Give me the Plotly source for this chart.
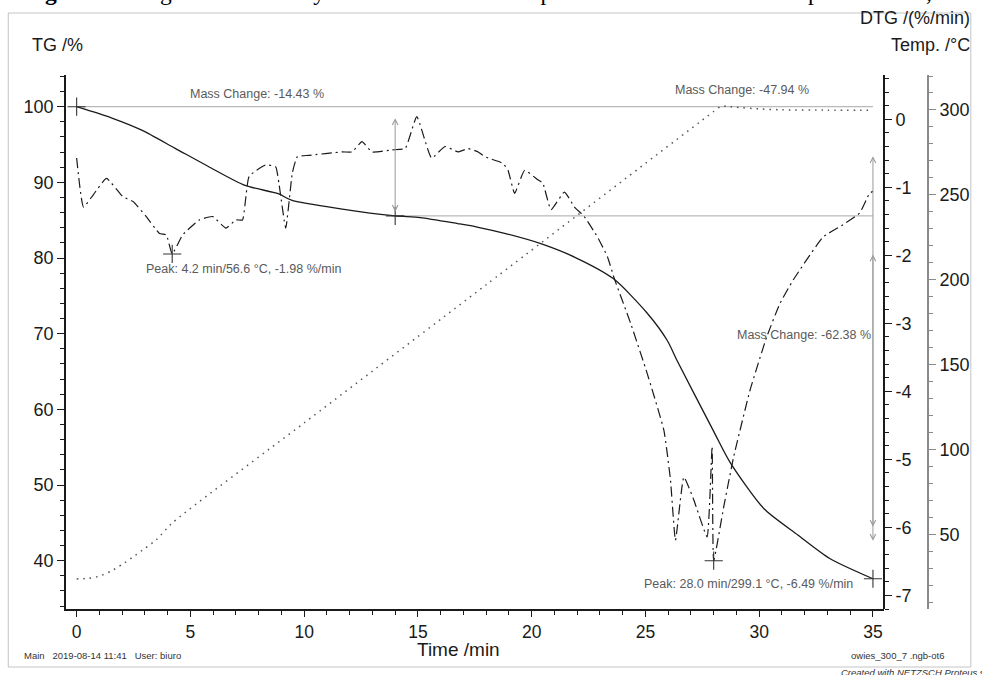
import plotly.graph_objects as go

# ---- measured curves -------------------------------------------------------
# TG (mass, %) versus time (min)
tg_time = [0.0, 1.55, 2.86, 4.33, 5.79, 7.4, 8.86, 9.44, 11.6, 14.0, 15.1, 16.75,
           17.6, 18.9, 20.4, 21.9, 23.6, 25.08, 25.96, 26.4, 28.0, 28.7, 30.2,
           31.7, 33.1, 35.0]
tg_value = [100.0, 98.5, 96.9, 94.5, 92.1, 89.6, 88.5, 87.65, 86.5, 85.57, 85.35,
            84.55, 84.1, 83.2, 81.9, 80.1, 77.25, 72.7, 69.1, 66.4, 57.1, 53.1,
            46.9, 43.4, 40.3, 37.62]

# DTG (%/min) versus time (min)
dtg_time = [0.0, 0.3, 0.73, 1.31, 2.04, 2.48, 3.06, 3.64, 3.94, 4.2, 4.66, 5.39,
            5.98, 6.56, 7.0, 7.29, 7.58, 8.31, 8.75, 8.89, 9.19, 9.48, 9.7, 10.21,
            11.66, 12.1, 12.54, 12.98, 13.85, 14.44, 14.95, 15.6, 16.19, 16.77,
            17.21, 17.65, 17.94, 18.74, 18.96, 19.25, 19.69, 20.27, 20.49, 20.85,
            21.44, 21.88, 22.31, 22.89, 23.33, 23.63, 24.35, 25.08, 25.81, 26.1,
            26.32, 26.69, 27.13, 27.71, 27.93, 28.0, 28.44, 28.88, 29.6, 30.33,
            30.91, 31.5, 32.81, 33.54, 34.41, 34.85, 35.0]
dtg_value = [-0.57, -1.29, -1.11, -0.87, -1.14, -1.21, -1.43, -1.68, -1.70, -1.98,
             -1.70, -1.48, -1.43, -1.60, -1.48, -1.48, -0.84, -0.67, -0.70, -0.94,
             -1.60, -0.79, -0.55, -0.53, -0.48, -0.48, -0.33, -0.48, -0.45, -0.43,
             0.04, -0.57, -0.40, -0.48, -0.43, -0.48, -0.55, -0.65, -0.75, -1.09,
             -0.75, -0.89, -0.94, -1.33, -1.07, -1.29, -1.43, -1.73, -2.02, -2.34,
             -3.00, -3.74, -4.57, -5.30, -6.19, -5.26, -5.60, -6.14, -4.81, -6.49,
             -5.70, -4.96, -3.98, -3.20, -2.71, -2.36, -1.73, -1.58, -1.38, -1.09,
             -1.06]

# Sample temperature (°C) versus time (min)
temp_time = [0.0, 0.5, 1.0, 1.5, 2.0, 2.5, 3.0, 3.5, 4.2, 10.0, 18.0, 28.0, 28.3,
             28.6, 29.0, 30.0, 31.0, 33.0, 35.0]
temp_value = [23.7, 24.0, 25.3, 28.2, 32.2, 36.8, 41.7, 46.7, 56.6, 115.6, 197.0,
              299.1, 302.0, 302.1, 301.6, 300.6, 300.1, 299.9, 299.8]

# ---- evaluation results ----------------------------------------------------
step_time = [0.0, 14.0, 35.0]
step_tg = [100.0, 85.57, 37.62]
mass_change = [-14.43, -47.94, -62.38]

peak_time = [4.2, 28.0]
peak_temp = [56.6, 299.1]
peak_dtg = [-1.98, -6.49]

x_ticks = [0, 5, 10, 15, 20, 25, 30, 35]
tg_ticks = [40, 50, 60, 70, 80, 90, 100]
dtg_ticks = [0, -1, -2, -3, -4, -5, -6, -7]
temp_ticks = [50, 100, 150, 200, 250, 300]

# ---- figure ----------------------------------------------------------------
FONT = "Liberation Sans, Arial, sans-serif"
INK = "#1a1a1a"
GREY_TXT = "#5a5a5a"
GREY_LINE = "#a8a8a8"

W, H = 982, 675
ML, MR, MT, MB = 66, 50, 75, 66
PW, PH = W - ML - MR, H - MT - MB
X_END = 888  # right edge of the time axis (px)


def px(xpix):
    return (xpix - ML) / PW


def py(ypix):
    return (H - MB - ypix) / PH


def labels(vals):
    # plain hyphen-minus for negative numbers
    return [f"{v:g}" for v in vals]


fig = go.Figure()

fig.add_trace(go.Scatter(
    x=temp_time, y=temp_value, yaxis="y3", mode="lines",
    line=dict(color="#555555", width=1.5, dash="1.5px,5px", shape="spline", smoothing=0.6),
    hoverinfo="skip", showlegend=False))

fig.add_trace(go.Scatter(
    x=dtg_time, y=dtg_value, yaxis="y2", mode="lines",
    line=dict(color=INK, width=1.2, dash="10px,4px,2px,4px", shape="spline", smoothing=0.4),
    hoverinfo="skip", showlegend=False))

fig.add_trace(go.Scatter(
    x=tg_time, y=tg_value, yaxis="y", mode="lines",
    line=dict(color=INK, width=1.3, shape="spline", smoothing=0.7),
    hoverinfo="skip", showlegend=False))

# evaluation markers
fig.add_trace(go.Scatter(
    x=step_time, y=step_tg, yaxis="y", mode="markers",
    marker=dict(symbol="cross-thin", size=13, line=dict(color="#333333", width=1.1)),
    hoverinfo="skip", showlegend=False))
fig.add_trace(go.Scatter(
    x=peak_time, y=peak_dtg, yaxis="y2", mode="markers",
    marker=dict(symbol="cross-thin", size=13, line=dict(color="#333333", width=1.1)),
    hoverinfo="skip", showlegend=False))

shapes = []
# horizontal reference lines of the mass-change steps
for t0, level in zip(step_time[:2], step_tg[:2]):
    shapes.append(dict(type="line", xref="x", yref="y", x0=t0, x1=step_time[-1],
                       y0=level, y1=level, line=dict(color=GREY_LINE, width=1),
                       layer="below"))
# outer frame of the sheet
shapes.append(dict(type="rect", xref="paper", yref="paper",
                   x0=px(8), x1=px(975), y0=py(667), y1=py(13),
                   line=dict(color="#c4c4c4", width=1)))

annotations = []


def arrow(t, top, bottom, inset_top, inset_bottom):
    annotations.append(dict(
        x=t, y=bottom, ax=t, ay=top, xref="x", yref="y", axref="x", ayref="y",
        text="", showarrow=True, arrowside="end+start", arrowhead=5, startarrowhead=5,
        arrowsize=1.1, startarrowsize=1.1, arrowwidth=1, arrowcolor="#9a9a9a",
        standoff=inset_bottom, startstandoff=inset_top))


arrow(step_time[1], step_tg[0], step_tg[1], 10, 4)
arrow(step_time[2], step_tg[0], step_tg[2], 48, 38)
arrow(step_time[2], step_tg[1], step_tg[2], 37, 52)


def label(text, **kw):
    base = dict(text=text, showarrow=False,
                font=dict(family=FONT, size=12.5, color=GREY_TXT))
    base.update(kw)
    annotations.append(base)


label(f"Mass Change: {mass_change[0]:.2f} %", x=7.94, xref="x", y=py(94), yref="paper",
      xanchor="center", yanchor="middle")
label(f"Mass Change: {mass_change[1]:.2f} %", x=29.24, xref="x", y=py(90), yref="paper",
      xanchor="center", yanchor="middle")
label(f"Mass Change: {mass_change[2]:.2f} %", x=step_time[2], xref="x", y=py(335),
      yref="paper", xanchor="right", yanchor="middle")

for t, T, d, dx, dy in zip(peak_time, peak_temp, peak_dtg, [-28, -72], [-15, -23]):
    label(f"Peak: {t:.1f} min/{T:.1f} °C, {d:.2f} %/min", x=t, xref="x", y=d, yref="y2",
          xanchor="left", yanchor="middle", xshift=dx, yshift=dy)

# axis titles and sheet texts
title_font = dict(family=FONT, size=18, color=INK)
small = dict(family=FONT, size=9.5, color="#333")
annotations += [
    dict(text="TG /%", x=px(57), y=py(45), xref="paper", yref="paper", showarrow=False,
         xanchor="center", yanchor="middle", font=title_font),
    dict(text="DTG /(%/min)", x=px(976), y=py(18), xref="paper", yref="paper",
         showarrow=False, xanchor="right", yanchor="middle", font=title_font),
    dict(text="Temp. /°C", x=px(976), y=py(45), xref="paper", yref="paper",
         showarrow=False, xanchor="right", yanchor="middle", font=title_font),
    dict(text="Time /min", x=px(460), y=py(649), xref="paper", yref="paper",
         showarrow=False, xanchor="center", yanchor="middle",
         font=dict(family=FONT, size=19, color=INK)),
    dict(text="Main&nbsp;&nbsp;&nbsp;2019-08-14 11:41&nbsp;&nbsp;&nbsp;User: biuro",
         x=px(22), y=py(655), xref="paper", yref="paper", showarrow=False,
         xanchor="left", yanchor="middle", font=small),
    dict(text="owies_300_7 .ngb-ot6", x=px(951), y=py(655), xref="paper", yref="paper",
         showarrow=False, xanchor="right", yanchor="middle", font=small),
    dict(text="<i>Created with NETZSCH Proteus software</i>", x=px(843), y=py(672),
         xref="paper", yref="paper", showarrow=False, xanchor="left", yanchor="middle",
         font=small),
    dict(text="<b>Fig. 3</b> Thermogravimetric analysis of oat straw for the production "
              "of biochar at temperature 287,5 °C",
         x=px(22), y=py(-8), xref="paper", yref="paper", showarrow=False,
         xanchor="left", yanchor="middle",
         font=dict(family="Liberation Serif, Times New Roman, serif", size=23.5, color="#000")),
]

tick_font = dict(family=FONT, size=18, color=INK)
x_lo = -(76.7 - ML) / 22.857
x_hi = (X_END - 76.7) / 22.857

fig.update_layout(
    width=W, height=H,
    margin=dict(l=ML, r=MR, t=MT, b=MB, pad=0),
    paper_bgcolor="white", plot_bgcolor="white",
    showlegend=False,
    xaxis=dict(domain=[0, (X_END - ML) / PW], range=[x_lo, x_hi],
               tickvals=x_ticks, ticktext=labels(x_ticks),
               showgrid=False, zeroline=False, showline=True, linecolor=INK, linewidth=1.5,
               ticks="outside", ticklen=6, tickwidth=1.3, tickcolor=INK,
               tickfont=dict(family=FONT, size=17.5, color=INK),
               minor=dict(dtick=1, tick0=0, ticks="outside", ticklen=4, tickcolor=INK,
                          showgrid=False)),
    yaxis=dict(range=[33.62, 104.19], tickvals=tg_ticks, ticktext=labels(tg_ticks),
               showgrid=False, zeroline=False,
               showline=True, linecolor=INK, linewidth=1.5, ticks="outside", ticklen=7,
               tickwidth=1.3, tickcolor=INK, tickfont=tick_font,
               minor=dict(dtick=2, tick0=0, ticks="outside", ticklen=4, tickcolor=INK,
                          showgrid=False)),
    yaxis2=dict(range=[-7.20, 0.651], tickvals=dtg_ticks, ticktext=labels(dtg_ticks),
                overlaying="y", side="right",
                anchor="free", position=(X_END - ML) / PW, showgrid=False, zeroline=False,
                showline=True, linecolor=INK, linewidth=1.5, ticks="outside", ticklen=7,
                tickwidth=1.3, tickcolor=INK, tickfont=tick_font,
                minor=dict(dtick=0.2, tick0=0, ticks="outside", ticklen=4, tickcolor=INK,
                           showgrid=False)),
    yaxis3=dict(range=[5.95, 320.6], tickvals=temp_ticks, ticktext=labels(temp_ticks),
                overlaying="y", side="right",
                anchor="free", position=1.0, showgrid=False, zeroline=False,
                showline=True, linecolor="#8a8a8a", linewidth=2, ticks="outside", ticklen=7,
                tickwidth=1.3, tickcolor="#8a8a8a", tickfont=tick_font,
                minor=dict(dtick=10, tick0=0, ticks="outside", ticklen=4, tickcolor="#8a8a8a",
                           showgrid=False)),
    shapes=shapes,
    annotations=annotations,
)

fig.write_html("out.html")
